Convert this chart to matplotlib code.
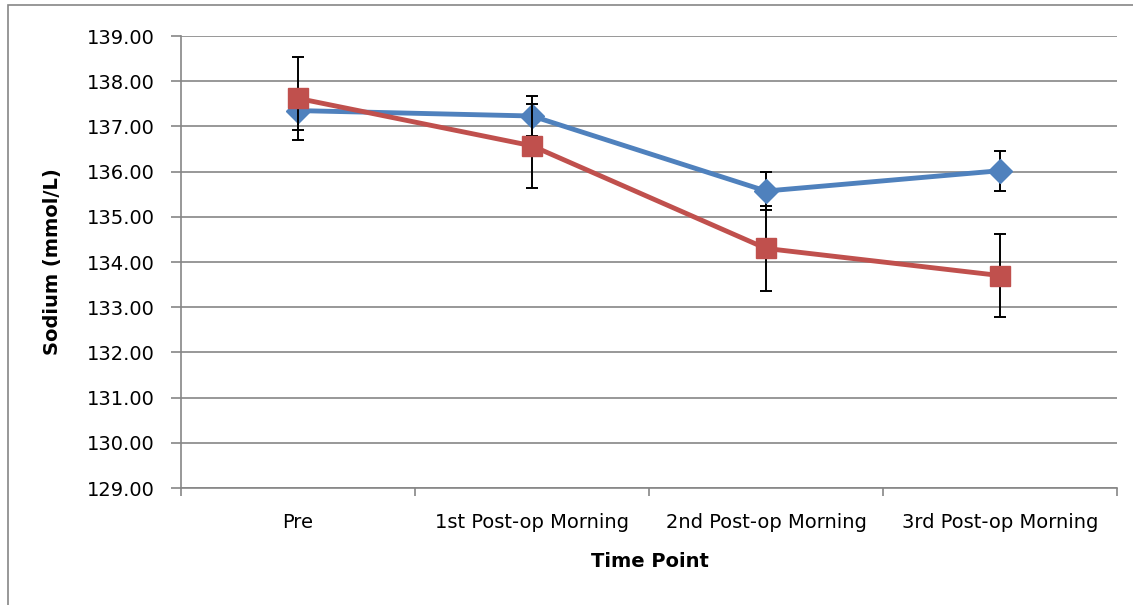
import matplotlib
matplotlib.use("Agg")
import matplotlib.pyplot as plt
from matplotlib.patches import Rectangle
import numpy as np

plt.rcParams['font.family'] = ['DejaVu Sans']

categories = ["Pre", "1st Post-op Morning", "2nd Post-op Morning", "3rd Post-op Morning"]
blue_mean = [137.35, 137.23, 135.57, 136.02]
blue_err = [0.42, 0.44, 0.43, 0.44]
red_mean = [137.62, 136.57, 134.30, 133.70]
red_err = [0.92, 0.93, 0.95, 0.92]
y_ticks = [129, 130, 131, 132, 133, 134, 135, 136, 137, 138, 139]

BLUE = "#4F81BD"
RED = "#C0504D"
GRID = "#868686"
FS = 14

fig = plt.figure(figsize=(11.33, 6.05), dpi=100)
fig.patches.append(Rectangle((8 / 1133, -0.1), 1.2, 1 - 5 / 605 + 0.1,
                             transform=fig.transFigure, fill=False,
                             edgecolor="#868686", linewidth=1.2))

ax = fig.add_axes([181 / 1133, 1 - 488 / 605, (1117 - 181) / 1133, (488 - 36) / 605])

x = np.arange(len(categories))

ax.errorbar(x, blue_mean, yerr=blue_err, fmt='none', ecolor='black',
            elinewidth=1.4, capsize=4.5, capthick=1.4, zorder=3)
ax.plot(x, blue_mean, color=BLUE, linewidth=3.5, marker='D', markersize=12.5,
        markerfacecolor=BLUE, markeredgecolor=BLUE, zorder=4)
ax.errorbar(x, red_mean, yerr=red_err, fmt='none', ecolor='black',
            elinewidth=1.4, capsize=4.5, capthick=1.4, zorder=5)
ax.plot(x, red_mean, color=RED, linewidth=3.5, marker='s', markersize=14,
        markerfacecolor=RED, markeredgecolor=RED, zorder=6)

ax.set_xlim(-0.5, len(categories) - 0.5)
ax.set_ylim(129, 139)
ax.set_yticks(y_ticks)
ax.set_yticklabels([f"{v:.2f}" for v in y_ticks])
ax.yaxis.grid(True, color=GRID, linewidth=1.2)
ax.set_axisbelow(True)

ax.set_xticks(x)
ax.set_xticklabels(categories)
ax.set_xticks(np.arange(len(categories) + 1) - 0.5, minor=True)
ax.tick_params(axis='x', which='major', length=0, pad=18, labelsize=FS)
ax.tick_params(axis='x', which='minor', length=6, width=1.2, color=GRID, direction='out')
ax.tick_params(axis='y', length=7, width=1.2, color=GRID, direction='out', pad=12, labelsize=FS)

for side in ("top", "right"):
    ax.spines[side].set_visible(False)
for side in ("left", "bottom"):
    ax.spines[side].set_color(GRID)
    ax.spines[side].set_linewidth(1.2)

ax.set_ylabel("Sodium (mmol/L)", fontsize=FS, fontweight='bold')
ax.yaxis.set_label_coords((62 - 181) / 936, 0.5)
ax.set_xlabel("Time Point", fontsize=FS, fontweight='bold')
ax.xaxis.set_label_coords((650 - 181) / 936, -(552 - 488) / 452)

fig.savefig("out.png", dpi=100)
